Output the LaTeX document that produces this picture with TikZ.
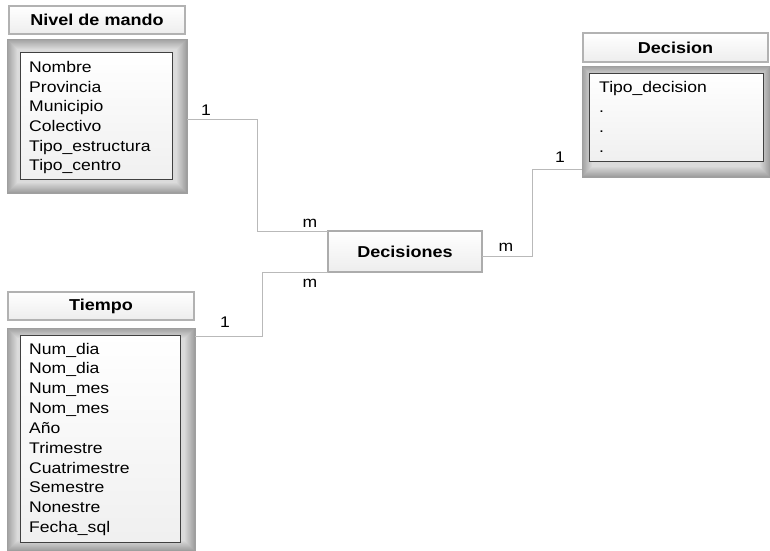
\documentclass[tikz,border=0pt]{standalone}
\usepackage{fontspec}
\setmainfont[FakeStretch=1.14]{Liberation Sans}
\usetikzlibrary{shadows}

\begin{document}
\begin{tikzpicture}[x=1pt,y=-1pt]
\tikzset{
  hdr/.style={draw=gray!60, line width=1.2pt, top color=white, bottom color=gray!14,
    inner sep=0pt, outer sep=0pt, font=\fontsize{15.8}{18}\selectfont\bfseries,
    drop shadow={shadow xshift=0.8pt, shadow yshift=-0.8pt, opacity=0.35}},
  frame/.style={draw=gray!75, line width=1pt, fill=gray!75,
    inner sep=0pt, outer sep=0pt},
  list/.style={draw=black!75, line width=0.8pt, top color=white, bottom color=gray!12,
    inner sep=0pt, outer sep=0pt,
    drop shadow={shadow xshift=1pt, shadow yshift=-1pt, opacity=0.45}},
  attr/.style={anchor=base west, inner sep=0pt, font=\fontsize{15.4}{18}\selectfont},
  card/.style={inner sep=0pt, font=\fontsize{15.4}{18}\selectfont},
  link/.style={draw=gray!55, line width=1pt},
}
\useasboundingbox (0,0) rectangle (770,550);

% Outer frames of the three dimension tables
\node[frame, minimum width=180pt, minimum height=154pt] (nivelbox) at (97,116) {};
\node[frame, minimum width=188pt, minimum height=111pt] (decbox) at (676,121.5) {};
\node[frame, minimum width=188pt, minimum height=223pt] (tiebox) at (101,439.5) {};
% soft bevel: frames get lighter towards the inside
\foreach \b in {nivelbox,decbox,tiebox}
  \foreach \k in {1,...,10} {
    \pgfmathtruncatemacro\c{75-4.6*\k}
    \fill[gray!\c] ([shift={(\k,\k)}]\b.north west) rectangle ([shift={(-\k,-\k)}]\b.south east);
  }

% Nivel de mando
\node[hdr, minimum width=176pt, minimum height=28pt] (nivelhdr) at (97,20) {Nivel de mando};
\node[list, minimum width=152pt, minimum height=127pt] (nivellist) at (96,115.5) {};
\foreach \t [count=\i] in {Nombre,Provincia,Municipio,Colectivo,Tipo\_estructura,Tipo\_centro}
  \node[attr] (nv\i) at (29,{72.7+19.6*(\i-1)}) {\t};

% Decision
\node[hdr, minimum width=185pt, minimum height=29pt] (dechdr) at (675.5,47.5) {Decision};
\node[list, minimum width=174pt, minimum height=88pt] (declist) at (676,117) {};
\node[attr] (dc1) at (599,92) {Tipo\_decision};
\foreach \i in {2,3,4}
  \node[attr] (dc\i) at (599,{92+20*(\i-1)}) {.};

% Tiempo
\node[hdr, minimum width=186pt, minimum height=28pt] (tiehdr) at (101,306) {Tiempo};
\node[list, minimum width=160pt, minimum height=207pt] (tielist) at (100,438.5) {};
\foreach \t [count=\i] in {Num\_dia,Nom\_dia,Num\_mes,Nom\_mes,Año,Trimestre,Cuatrimestre,Semestre,Nonestre,Fecha\_sql}
  \node[attr] (ti\i) at (29,{354+19.85*(\i-1)}) {\t};

% Decisiones (fact)
\node[hdr, draw=gray!65, line width=1.5pt, minimum width=154pt, minimum height=41pt] (dec) at (405,251.5) {Decisiones};

% Relationships
\draw[link] ([yshift=-3pt]nivelbox.east) -- ++(70,0) |- (dec.north west);
\draw[link] (dec.south west) -- ++(-66,0) |- ([yshift=-8pt]tiebox.north east);
\draw[link] ([yshift=-4.5pt]dec.east) -- ++(50,0) |- ([yshift=8pt]decbox.south west);

% Cardinalities
\node[card] (c1) at (206,110) {1};
\node[card] (c2) at (310,223) {m};
\node[card] (c3) at (310,283) {m};
\node[card] (c4) at (225,322) {1};
\node[card] (c5) at (506,247) {m};
\node[card] (c6) at (560,157) {1};
\end{tikzpicture}
\end{document}
